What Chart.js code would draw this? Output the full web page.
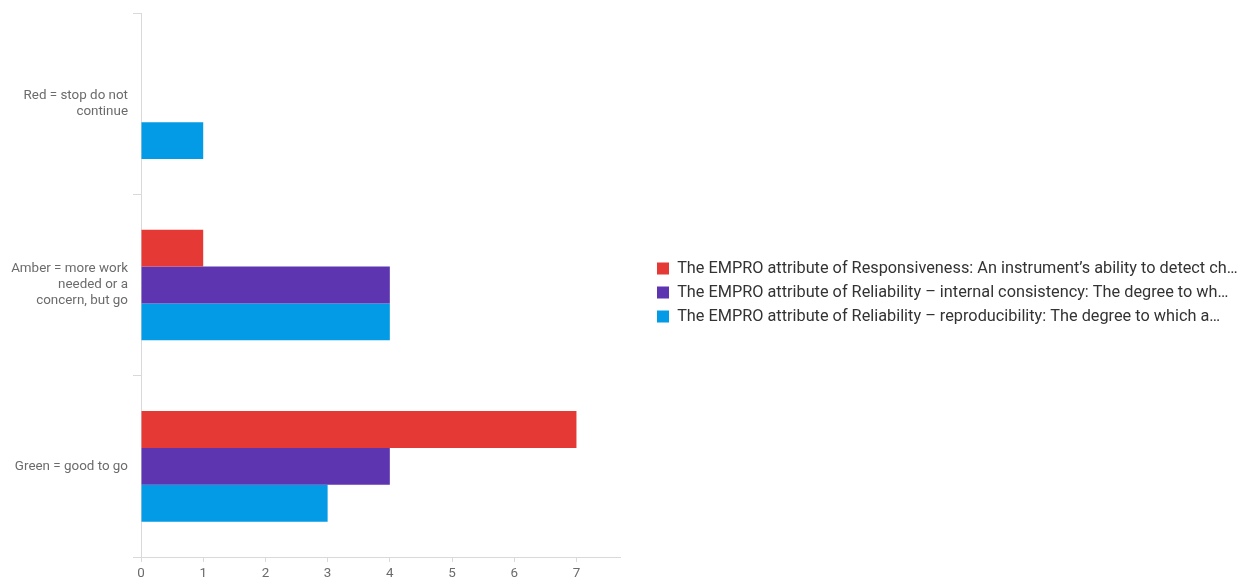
<!DOCTYPE html>
<html>
<head>
<meta charset="utf-8">
<script src="https://cdn.jsdelivr.net/npm/chart.js@4/dist/chart.umd.min.js"></script>
<style>
  html, body { margin: 0; padding: 0; background: #fff; }
  #wrap { width: 1251px; height: 581px; position: relative; }
</style>
</head>
<body>
<div id="wrap"><canvas id="c" width="1251" height="581"></canvas></div>
<script>
const categories = [
  ["Red = stop do not", "continue"],
  ["Amber = more work", "needed or a", "concern, but go"],
  ["Green = good to go"]
];
const seriesNames = [
  "The EMPRO attribute of Responsiveness: An instrument’s ability to detect ch…",
  "The EMPRO attribute of Reliability – internal consistency: The degree to wh…",
  "The EMPRO attribute of Reliability – reproducibility: The degree to which a…"
];
const responsiveness = [0, 1, 7];
const internalConsistency = [0, 4, 4];
const reproducibility = [1, 4, 3];
const xTicks = [0, 1, 2, 3, 4, 5, 6, 7];
const seriesColors = ["#E53935", "#5E35B1", "#039BE5"];

const FONT = "Roboto, 'Open Sans', sans-serif";
const LEGEND_FONT = 16.3;
const LEGEND_PAD = 24 - LEGEND_FONT;
const LEGEND_WIDTH = 631;
const LEGEND_BOX_X = 657;
const LEGEND_RAISE = 3;

const legendPlace = {
  id: 'legendPlace',
  beforeLayout(chart) {
    const lg = chart.legend;
    if (lg && !lg.__patched) {
      const f = lg.fit;
      lg.fit = function () { f.call(this); this.width = LEGEND_WIDTH; };
      lg.__patched = true;
    }
  },
  afterLayout(chart) {
    const lg = chart.legend;
    if (lg) {
      const shift = LEGEND_BOX_X - LEGEND_PAD - lg.left;
      lg.left += shift; lg.right += shift;
      lg.top -= LEGEND_RAISE; lg.bottom -= LEGEND_RAISE;
    }
  }
};

const values = [responsiveness, internalConsistency, reproducibility];

new Chart(document.getElementById('c'), {
  type: 'bar',
  data: {
    labels: categories,
    datasets: seriesNames.map((n, i) => ({
      label: n,
      data: values[i],
      backgroundColor: seriesColors[i],
      borderWidth: 0,
      barPercentage: 1.0,
      categoryPercentage: 0.61
    }))
  },
  options: {
    indexAxis: 'y',
    responsive: false,
    animation: false,
    layout: { padding: { top: 10, right: 0, left: 0, bottom: 0 } },
    plugins: {
      tooltip: { enabled: false },
      legend: {
        position: 'right',
        align: 'center',
        labels: {
          boxWidth: 12,
          boxHeight: 12,
          padding: LEGEND_PAD,
          color: '#333333',
          font: { family: FONT, size: LEGEND_FONT }
        }
      }
    },
    scales: {
      x: {
        min: 0,
        max: 7.7,
        afterBuildTicks: s => { s.ticks = xTicks.map(v => ({ value: v })); },
        afterFit: s => { s.height = 24; },
        grid: {
          drawOnChartArea: false,
          drawTicks: true,
          tickLength: 5,
          color: '#d9d9d9'
        },
        border: { color: '#d9d9d9', width: 1 },
        ticks: {
          color: '#6b6b6b',
          padding: 4,
          font: { family: FONT, size: 13.4 },
          maxRotation: 0
        }
      },
      y: {
        afterFit: s => { s.width = 141; },
        grid: {
          offset: true,
          drawOnChartArea: false,
          drawTicks: true,
          tickLength: 8,
          color: '#d9d9d9'
        },
        border: { color: '#d9d9d9', width: 1 },
        ticks: {
          color: '#6b6b6b',
          padding: 5,
          font: { family: FONT, size: 13.4, lineHeight: 1.2 }
        }
      }
    }
  },
  plugins: [legendPlace]
});
</script>
</body>
</html>
